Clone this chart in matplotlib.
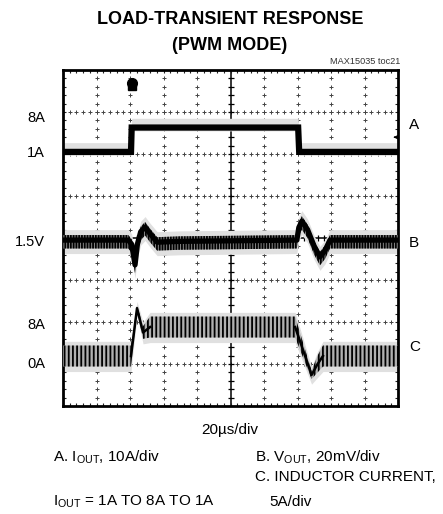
import numpy as np
import matplotlib
matplotlib.use('Agg')
import matplotlib.pyplot as plt

plt.rcParams['font.family'] = ['Liberation Sans', 'DejaVu Sans']
plt.rcParams['mathtext.fontset'] = 'custom'
plt.rcParams['mathtext.rm'] = 'Liberation Sans'
plt.rcParams['mathtext.it'] = 'Liberation Sans:italic'
plt.rcParams['mathtext.bf'] = 'Liberation Sans:bold'
plt.rcParams['hatch.linewidth'] = 1.3

# ---------------- data (scope divisions: x 0..10, y 0..8) ----------------
# Trace A: I_OUT
a_x = [0.0, 2.03, 2.05, 7.02, 7.05, 10.0]
a_y = [6.05, 6.05, 6.63, 6.63, 6.05, 6.05]

# Trace B: V_OUT
b_x = [0.0, 1.95, 2.05, 2.15, 2.22, 2.32, 2.45, 2.60, 2.81, 3.50,
       6.98, 7.04, 7.13, 7.30, 7.50, 7.67, 7.82, 7.97, 10.0]
b_y = [3.95, 3.95, 3.85, 3.36, 3.85, 4.15, 4.26, 4.10, 3.90, 3.92,
       3.95, 4.25, 4.40, 4.20, 3.80, 3.55, 3.70, 3.95, 3.95]

# Trace C: inductor current (mid level and ripple half-amplitude)
c_x = [0.0, 2.03, 2.21, 2.39, 2.60, 6.93, 7.42, 7.60, 7.76, 10.0]
c_mid = [1.19, 1.19, 2.33, 1.75, 1.88, 1.88, 0.74, 1.00, 1.19, 1.19]
c_half = [0.25, 0.25, 0.06, 0.15, 0.25, 0.25, 0.10, 0.20, 0.25, 0.25]

left_labels = ['8A', '1A', '1.5V', '8A', '0A']
left_label_y = [118, 153, 242, 325, 364]          # pixel rows
right_labels = ['A', 'B', 'C']
right_label_y = [125, 243, 347]

trig_x = 2.05
# -------------------------------------------------------------------------

W, H = 443, 514
fig = plt.figure(figsize=(W / 100, H / 100), dpi=100)
ax = fig.add_axes([63 / W, 1 - 406 / H, 335 / W, 336 / H])
ax.set_xlim(0, 10)
ax.set_ylim(0, 8)

for s in ax.spines.values():
    s.set_linewidth(2.0)
    s.set_color('black')

minor_x = np.arange(0, 10.001, 0.2)
minor_y = np.arange(0, 8.001, 0.2)
ax.set_xticks(minor_x)
ax.set_yticks(minor_y)
ax.tick_params(direction='in', length=2.5, width=0.8, top=True, right=True,
               labelbottom=False, labelleft=False, colors='#222222')

# dotted graticule
for gx in range(1, 10):
    if gx == 5:
        continue
    ax.plot(np.full_like(minor_y, gx), minor_y, ls='none', marker='+',
            ms=2.3, mew=0.7, color='#444444', zorder=1)
for gy in range(1, 8):
    if gy == 4:
        continue
    ax.plot(minor_x, np.full_like(minor_x, gy), ls='none', marker='+',
            ms=2.3, mew=0.7, color='#444444', zorder=1)

# centre crosshair with ticks
ax.axvline(5, color='black', lw=1.1, zorder=1)
ax.axhline(4, color='black', lw=1.1, zorder=1)
ax.plot(np.full_like(minor_y, 5), minor_y, ls='none', marker='_', ms=5,
        mew=0.9, color='black', zorder=1)
ax.plot(minor_x, np.full_like(minor_x, 4), ls='none', marker='|', ms=5,
        mew=0.9, color='black', zorder=1)

a_xa, a_ya = np.array(a_x), np.array(a_y)
b_xa, b_ya = np.array(b_x), np.array(b_y)
c_xa, c_m, c_h = np.array(c_x), np.array(c_mid), np.array(c_half)

halo = '#e0e0e0'
# Trace A
ax.fill_between(a_xa, a_ya - 0.08, a_ya + 0.22, color=halo, lw=0, zorder=2)
ax.plot(a_xa, a_ya, color='black', lw=4.5, solid_joinstyle='miter', zorder=4)

# Trace B
ax.fill_between(b_xa, b_ya - 0.32, b_ya + 0.25, color=halo, lw=0, zorder=2)
ax.fill_between(b_xa, b_ya - 0.20, b_ya + 0.12, facecolor='#8a8a8a',
                edgecolor='black', hatch='||||||', lw=0, zorder=3)
ax.plot(b_xa, b_ya, color='black', lw=3.8, zorder=4)

# Trace C
ax.fill_between(c_xa, c_m - c_h - 0.12, c_m + c_h + 0.10, color=halo, lw=0,
                zorder=2)
ax.fill_between(c_xa, c_m - c_h, c_m + c_h, facecolor='#b0b0b0',
                edgecolor='black', hatch='||||', lw=0, zorder=3)
# transition segments drawn as a single line
ax.plot(c_xa[1:5], c_m[1:5], color='black', lw=1.8, zorder=4)
ax.plot(c_xa[5:9], c_m[5:9], color='black', lw=1.8, zorder=4)

# trigger marker and channel-A ground marker
ax.plot([trig_x], [7.70], marker='o', ms=7, color='black', zorder=5,
        clip_on=False)
ax.plot([trig_x], [7.62], marker='s', ms=6, color='black', zorder=5,
        clip_on=False)
ax.annotate('', xy=(9.78, 6.40), xytext=(10.0, 6.40),
            arrowprops=dict(arrowstyle='-|>', color='black', lw=0.8,
                            mutation_scale=6), zorder=6)


def ft(x, y, s, **kw):
    fig.text(x / W, 1 - y / H, s, **kw)


ft(230, 19, 'LOAD-TRANSIENT RESPONSE', ha='center', va='center',
   fontsize=13, fontweight='bold')
ft(230, 45, '(PWM MODE)', ha='center', va='center', fontsize=13,
   fontweight='bold')
ft(400, 62, 'MAX15035 toc21', ha='right', va='center', fontsize=6.6,
   color='#333333')

for lab, y in zip(left_labels, left_label_y):
    ft(45, y, lab, ha='right', va='center', fontsize=10.5)
for lab, y in zip(right_labels, right_label_y):
    ft(409, y, lab, ha='left', va='center', fontsize=11)

ft(230, 430, '20µs/div', ha='center', va='center', fontsize=11)
ft(53, 457, r'A. I$_{\mathrm{OUT}}$, 10A/div', ha='left', va='center',
   fontsize=11)
ft(255, 457, r'B. V$_{\mathrm{OUT}}$, 20mV/div', ha='left', va='center',
   fontsize=11)
ft(255, 477, 'C. INDUCTOR CURRENT,', ha='left', va='center', fontsize=11)
ft(269, 502, '5A/div', ha='left', va='center', fontsize=11)
ft(53, 502, r'I$_{\mathrm{OUT}}$ = 1A TO 8A TO 1A', ha='left', va='center',
   fontsize=11)

fig.savefig('out.png', dpi=100)
